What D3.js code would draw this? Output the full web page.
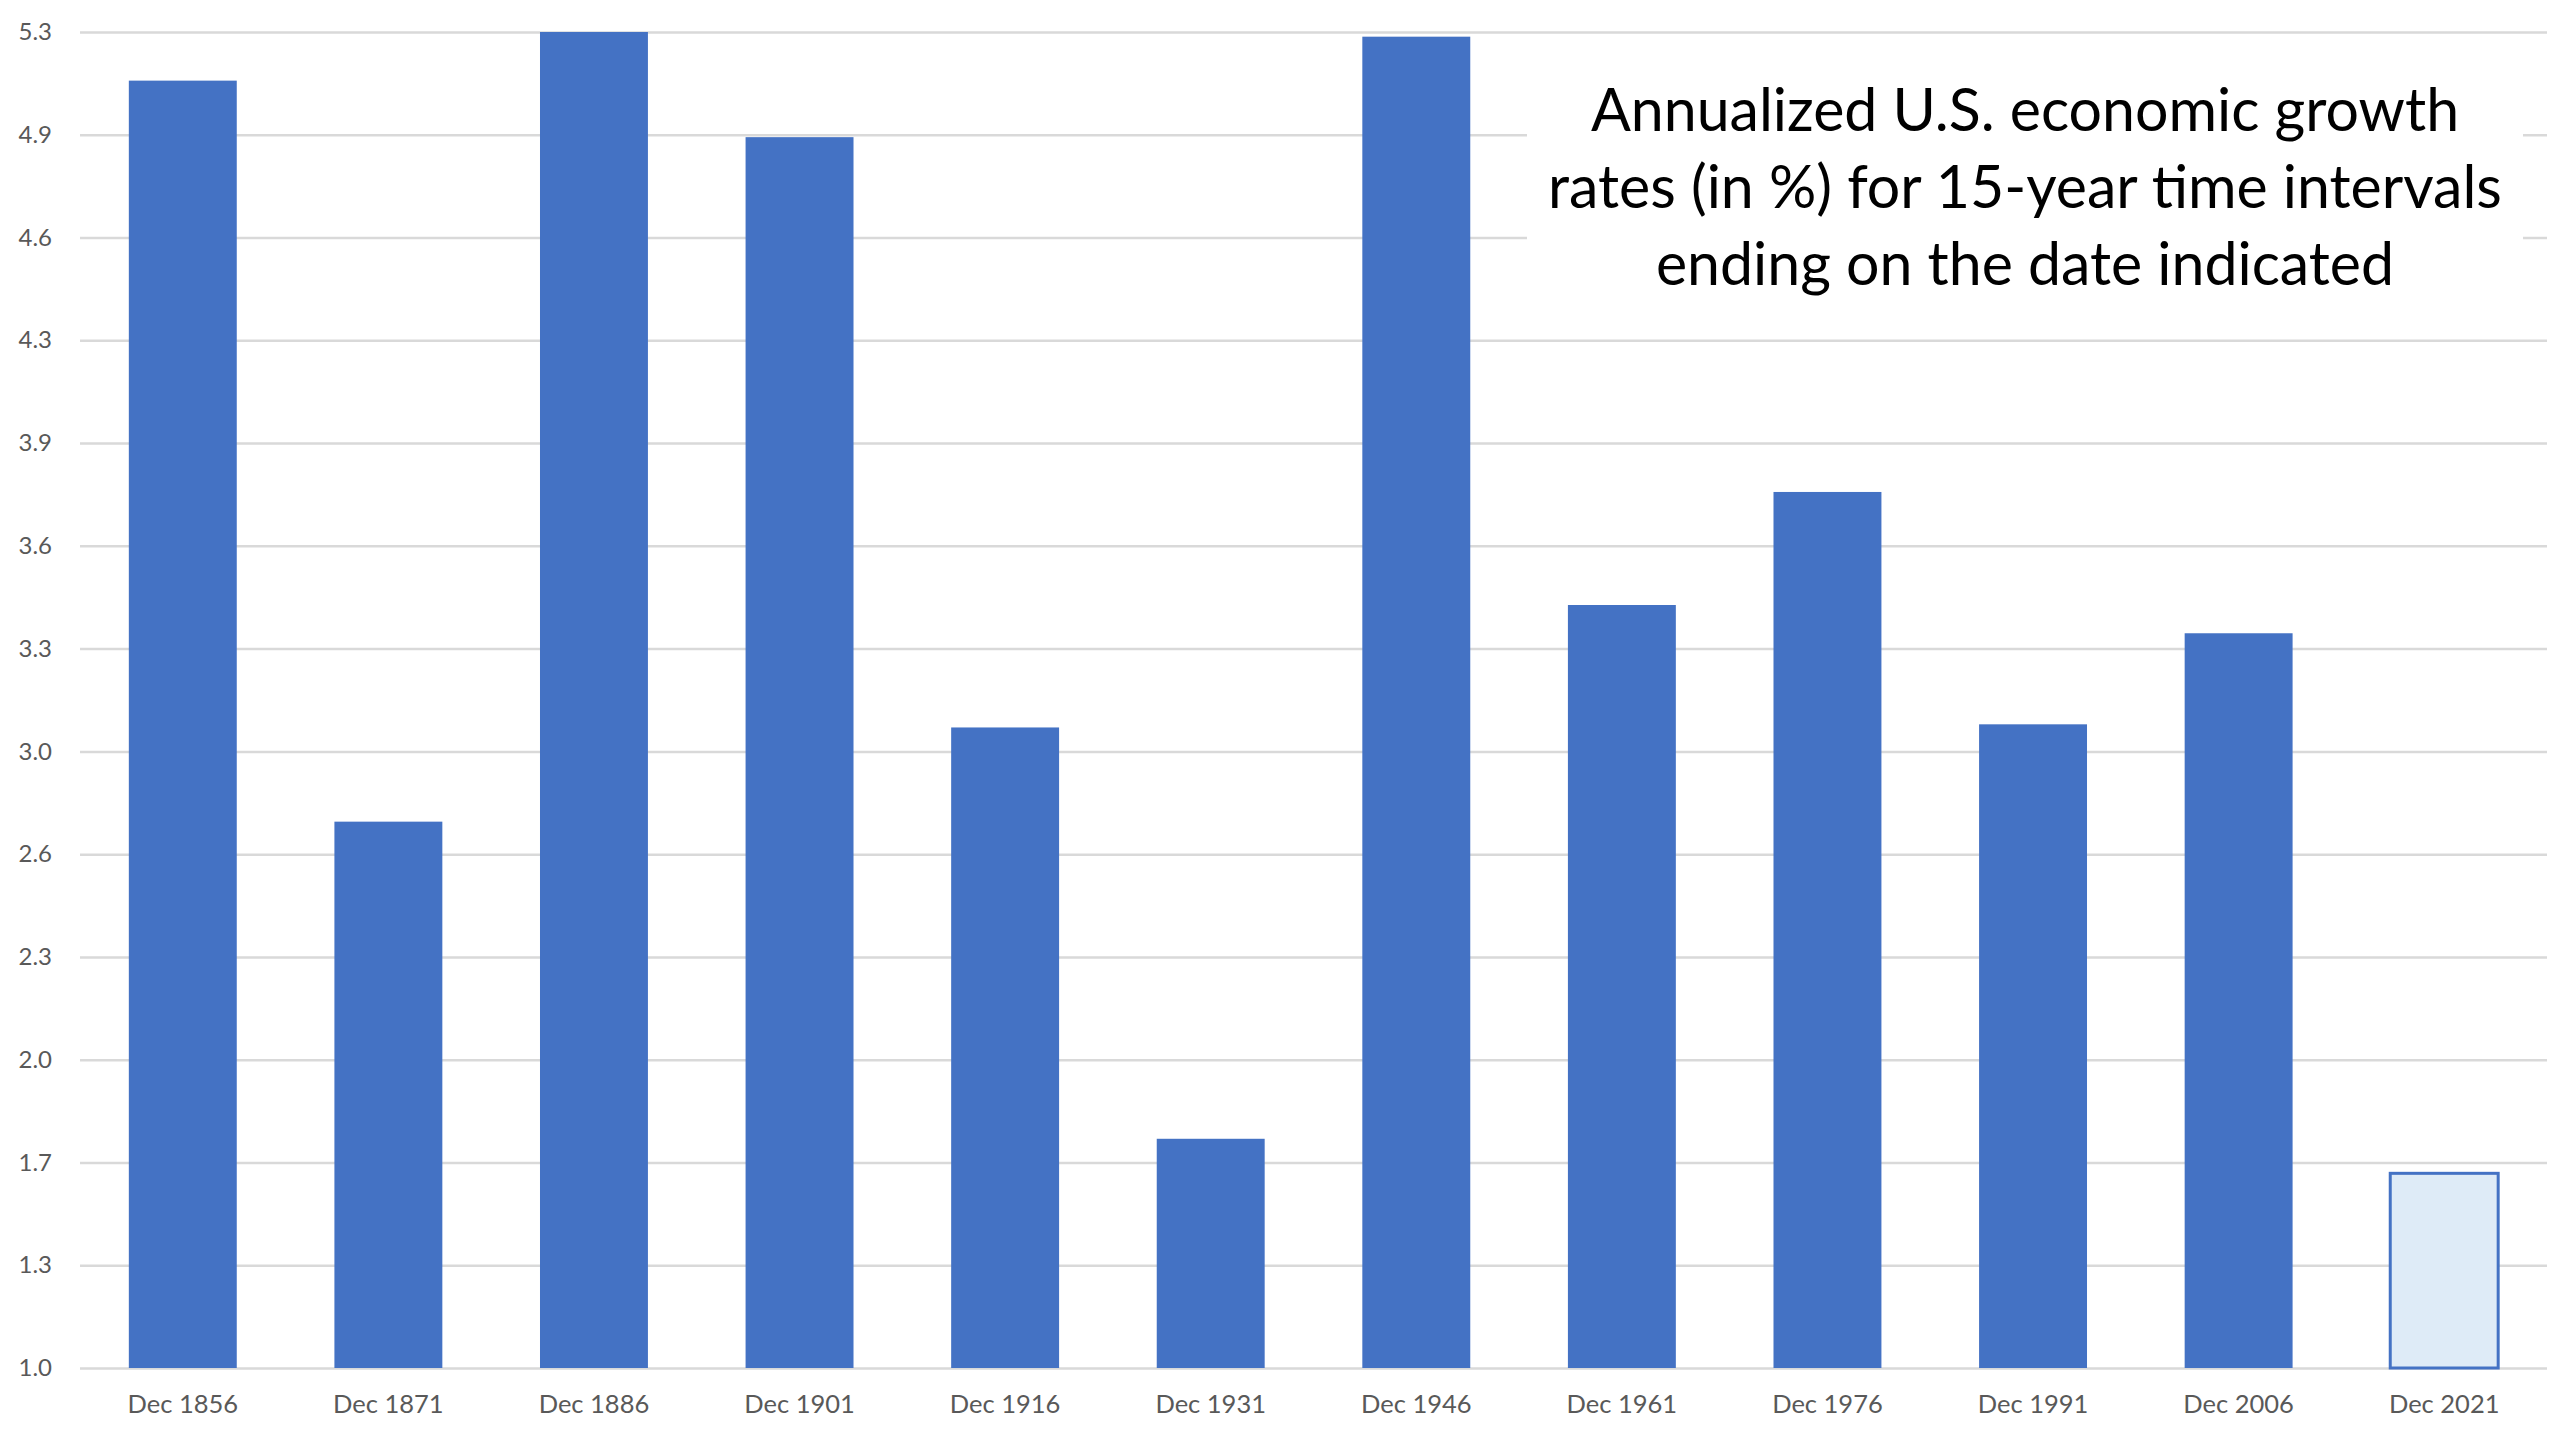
<!DOCTYPE html>
<html>
<head>
<meta charset="utf-8">
<script src="https://cdn.jsdelivr.net/npm/d3@7"></script>
<style>
  html, body { margin: 0; padding: 0; background: #ffffff; }
  svg { display: block; }
</style>
</head>
<body>
<svg id="chart" width="2560" height="1440"></svg>
<script>
// ---- data ----
const categories = ["Dec 1856","Dec 1871","Dec 1886","Dec 1901","Dec 1916","Dec 1931",
                    "Dec 1946","Dec 1961","Dec 1976","Dec 1991","Dec 2006","Dec 2021"];
const growthValues = [5.10, 2.74, 5.30, 4.92, 3.04, 1.73, 5.24, 3.43, 3.79, 3.05, 3.34, 1.62];
const highlightedCategory = "Dec 2021";
const tickLabels = ["1.0","1.3","1.7","2.0","2.3","2.6","3.0","3.3","3.6","3.9","4.3","4.6","4.9","5.3"];
const axisMin = 1.0;
const axisStep = 0.3273;
const titleLines = ["Annualized U.S. economic growth",
                    "rates (in %) for 15-year time intervals",
                    "ending on the date indicated"];

// ---- layout ----
const W = 2560, H = 1440;
const plot = { left: 80, right: 2547, top: 32, bottom: 1368 };
const svg = d3.select("#chart");

const tickValues = tickLabels.map((_, i) => axisMin + i * axisStep);
const axisMax = tickValues[tickValues.length - 1];

const x = d3.scaleBand()
  .domain(categories)
  .range([plot.left, plot.right])
  .paddingInner(0.475)
  .paddingOuter(0.2375);

const y = d3.scaleLinear()
  .domain([axisMin, axisMax])
  .range([plot.bottom, plot.top])
  .clamp(true);

// gridlines + y labels
const yAxis = d3.axisLeft(y)
  .tickValues(tickValues)
  .tickSize(-(plot.right - plot.left))
  .tickPadding(28)
  .tickFormat((d, i) => tickLabels[i]);

const gy = svg.append("g")
  .attr("transform", `translate(${plot.left},0)`)
  .call(yAxis);
gy.select(".domain").remove();
gy.selectAll(".tick line").attr("stroke", "#d9d9d9").attr("stroke-width", 2.5);
gy.selectAll(".tick text")
  .attr("fill", "#595959")
  .style("font-family", "Lato, 'Open Sans', sans-serif")
  .style("font-size", "24px");

// x labels
const xAxis = d3.axisBottom(x).tickSize(0).tickPadding(27);
const gx = svg.append("g")
  .attr("transform", `translate(0,${plot.bottom})`)
  .call(xAxis);
gx.select(".domain").remove();
gx.selectAll(".tick text")
  .attr("fill", "#595959")
  .style("font-family", "Lato, 'Open Sans', sans-serif")
  .style("font-size", "25.5px");

// bars
const data = categories.map((c, i) => ({ cat: c, v: growthValues[i] }));
svg.append("g").selectAll("rect")
  .data(data)
  .join("rect")
  .attr("x", d => x(d.cat))
  .attr("width", x.bandwidth())
  .attr("y", d => y(d.v))
  .attr("height", d => y(axisMin) - y(d.v))
  .attr("fill", d => d.cat === highlightedCategory ? "#deebf7" : "#4472c4")
  .attr("stroke", d => d.cat === highlightedCategory ? "#4472c4" : "none")
  .attr("stroke-width", 3);

// title box
svg.append("rect")
  .attr("x", 1527).attr("y", 60)
  .attr("width", 996).attr("height", 250)
  .attr("fill", "#ffffff");

const title = svg.append("text")
  .attr("text-anchor", "middle")
  .attr("fill", "#000000")
  .style("font-family", "Lato, 'Open Sans', sans-serif")
  .style("font-size", "63px");
titleLines.forEach((t, i) => {
  title.append("tspan")
    .attr("x", 2025)
    .attr("y", 131 + i * 77)
    .text(t);
});
// fit widest line to reference width
const tsp = title.selectAll("tspan").nodes();
const widest = d3.max(tsp, n => n.getComputedTextLength());
const fs = 63 * 954 / widest;
title.style("font-size", fs + "px");
</script>
</body>
</html>
